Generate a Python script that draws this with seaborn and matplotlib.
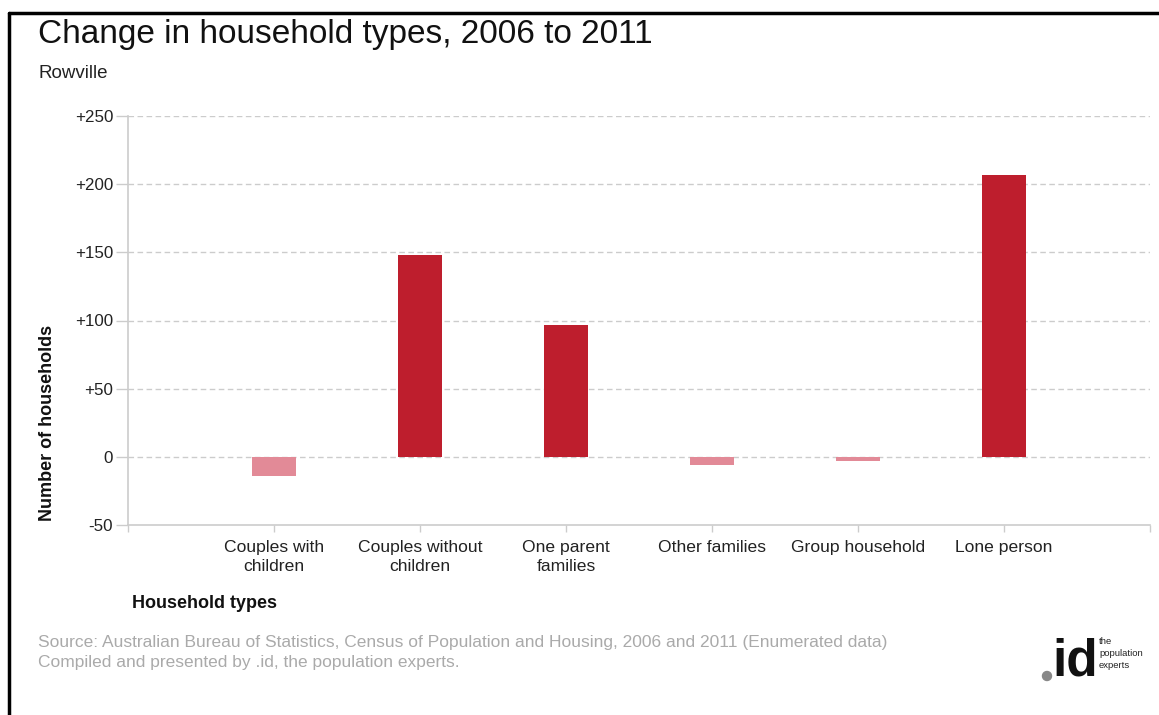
import matplotlib
matplotlib.use("Agg")
import matplotlib.pyplot as plt
from matplotlib.lines import Line2D
from matplotlib.patches import Ellipse
import seaborn as sns
import pandas as pd

# Household type categories and change in number of households, 2006 to 2011
categories = ["Couples with\nchildren", "Couples without\nchildren", "One parent\nfamilies",
              "Other families", "Group household", "Lone person"]
change = [-14, 148, 97, -6, -3, 207]
y_ticks = [-50, 0, 50, 100, 150, 200, 250]
y_tick_labels = ["-50", "0", "+50", "+100", "+150", "+200", "+250"]

POS = "#BE1E2D"
NEG = "#E28A97"

sns.set_theme(style="white")
plt.rcParams["font.family"] = ["Liberation Sans", "DejaVu Sans"]

df = pd.DataFrame({"type": categories, "change": change})
df["sign"] = ["pos" if v >= 0 else "neg" for v in df["change"]]

W, H = 1159, 715
PT = 72 / 100  # points per pixel at 100 dpi
fig = plt.figure(figsize=(W / 100, H / 100), dpi=100)
ax = fig.add_axes([128 / W, 1 - 525 / H, (1150 - 128) / W, (525 - 116) / H])

sns.barplot(data=df, x="type", y="change", hue="sign", order=categories,
            palette={"pos": POS, "neg": NEG}, dodge=False, width=0.3,
            legend=False, ax=ax, saturation=1, linewidth=0)

ax.set_xlim(-1, 6)
ax.set_ylim(-50, 250)
ax.set_yticks(y_ticks)
ax.set_yticklabels(y_tick_labels)
ax.set_xticks(range(-1, 7))
ax.set_xticklabels([""] + categories + [""], linespacing=1.38)
ax.tick_params(axis="x", length=7 * PT, width=1, color="#cccccc", labelsize=12.6,
               labelcolor="#222222", pad=5.5, direction="out", bottom=True)
ax.tick_params(axis="y", length=12 * PT, width=1, color="#cccccc", labelsize=12.2,
               labelcolor="#222222", pad=3 * PT, direction="out", left=True)

for y in y_ticks:
    if y != -50:
        ax.axhline(y, color="#cccccc", lw=1, ls=(0, (4, 2.5)), zorder=0)

for s in ["top", "right"]:
    ax.spines[s].set_visible(False)
for s in ["left", "bottom"]:
    ax.spines[s].set_color("#cccccc")
    ax.spines[s].set_linewidth(1.2)

ax.set_xlabel("")
ax.set_ylabel("")

# Titles and axis labels
fig.text(38 / W, 1 - 35 / H, "Change in household types, 2006 to 2011",
         fontsize=24, color="#111111", ha="left", va="center")
fig.text(38 / W, 1 - 73 / H, "Rowville", fontsize=13.5, color="#222222",
         ha="left", va="center")
fig.text(48 / W, 1 - 423 / H, "Number of households", rotation=90,
         fontsize=13, fontweight="bold", color="#111111", ha="center", va="center")
fig.text(132 / W, 1 - 604 / H, "Household types", fontsize=13,
         fontweight="bold", color="#111111", ha="left", va="center")

# Source notes
fig.text(38 / W, 1 - 643 / H,
         "Source: Australian Bureau of Statistics, Census of Population and Housing, 2006 and 2011 (Enumerated data)",
         fontsize=12.5, color="#aaaaaa", ha="left", va="center")
fig.text(38 / W, 1 - 662 / H, "Compiled and presented by .id, the population experts.",
         fontsize=12.5, color="#aaaaaa", ha="left", va="center")

# .id logo
fig.text(1052 / W, 1 - 662 / H, "id", fontsize=37, fontweight="bold",
         color="#111111", ha="left", va="center")
fig.add_artist(Ellipse((1047 / W, 1 - 676 / H), 9 / W, 9 / H, color="#888888",
                       transform=fig.transFigure))
for i, word in enumerate(["the", "population", "experts"]):
    fig.text(1099 / W, 1 - (642 + i * 12) / H, word, fontsize=6.8,
             color="#222222", ha="left", va="center")

# Frame lines on top and left edges
fig.add_artist(Line2D([9 / W, 1], [1 - 13 / H, 1 - 13 / H], color="black",
                      lw=2.5, transform=fig.transFigure))
fig.add_artist(Line2D([9 / W, 9 / W], [0, 1 - 13 / H], color="black",
                      lw=2.5, transform=fig.transFigure))

fig.savefig("out.png", dpi=100, facecolor="white")
